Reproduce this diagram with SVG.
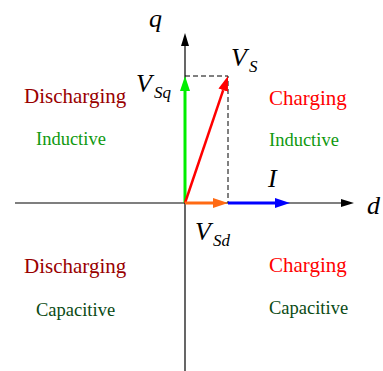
<svg xmlns="http://www.w3.org/2000/svg" width="383" height="371" viewBox="0 0 383 371">
<style>
.axis{stroke:#000;stroke-width:1.2;fill:none}
.dash{stroke:#000;stroke-width:1;stroke-dasharray:5,3;fill:none}
.lbl{font-family:"Liberation Serif",serif;font-size:21px}
.sub{font-family:"Liberation Serif",serif;font-size:18.5px}
.var{font-family:"Liberation Serif",serif;font-style:italic;font-size:26px;fill:#000}
.vsub{font-family:"Liberation Serif",serif;font-style:italic;font-size:17px;fill:#000}
.dis{fill:#990000}.chg{fill:#ff0000}.ind{fill:#0f990f}.cap{fill:#0a4a14}
</style>
<defs>
<marker id="ak" markerUnits="userSpaceOnUse" markerWidth="14" markerHeight="10" refX="0" refY="5" orient="auto" viewBox="0 0 14 10"><path d="M0,1 L13,5 L0,9 Z" fill="#000"/></marker>
<marker id="ag" markerUnits="userSpaceOnUse" markerWidth="15" markerHeight="12" refX="0" refY="6" orient="auto" viewBox="0 0 15 12"><path d="M0,1 L15,6 L0,11 Z" fill="#00ee00"/></marker>
<marker id="ar" markerUnits="userSpaceOnUse" markerWidth="15" markerHeight="12" refX="0" refY="6" orient="auto" viewBox="0 0 15 12"><path d="M0,1 L15,6 L0,11 Z" fill="#ff0000"/></marker>
<marker id="ao" markerUnits="userSpaceOnUse" markerWidth="15" markerHeight="12" refX="0" refY="6" orient="auto" viewBox="0 0 15 12"><path d="M0,1 L15,6 L0,11 Z" fill="#ff6a13"/></marker>
<marker id="ab" markerUnits="userSpaceOnUse" markerWidth="15" markerHeight="12" refX="0" refY="6" orient="auto" viewBox="0 0 15 12"><path d="M0,1 L15,6 L0,11 Z" fill="#0000ff"/></marker>
</defs>
<rect width="383" height="371" fill="#fff"/>
<g id="connectors">
<line class="axis" x1="15" y1="203" x2="341" y2="203" marker-end="url(#ak)"/>
<line class="axis" x1="185" y1="371" x2="185" y2="46" marker-end="url(#ak)"/>
<polyline class="dash" points="185,76 228,76 228,203"/>
<line x1="185" y1="203" x2="185" y2="91" stroke="#00ee00" stroke-width="3" marker-end="url(#ag)"/>
<line x1="185" y1="203" x2="223.2" y2="90.2" stroke="#ff0000" stroke-width="2.5" marker-end="url(#ar)"/>
<line x1="228" y1="203" x2="275" y2="203" stroke="#0000ff" stroke-width="3" marker-end="url(#ab)"/>
<line x1="185" y1="203" x2="213" y2="203" stroke="#ff6a13" stroke-width="3" marker-end="url(#ao)"/>
</g>
<g id="axis-labels">
<text class="var" x="149" y="27">q</text>
<text class="var" x="367" y="214">d</text>
</g>
<g id="vector-labels">
<text x="231" y="66"><tspan class="var">V</tspan><tspan class="vsub" dx="2" dy="6">S</tspan></text>
<text x="136" y="92"><tspan class="var">V</tspan><tspan class="vsub" dx="2" dy="6">Sq</tspan></text>
<text x="195" y="240"><tspan class="var">V</tspan><tspan class="vsub" dx="2" dy="6">Sd</tspan></text>
<text class="var" x="268" y="187">I</text>
</g>
<g id="q2"><text class="lbl dis" x="24" y="103">Discharging</text><text class="sub ind" x="36" y="145">Inductive</text></g>
<g id="q1"><text class="lbl chg" x="269" y="105">Charging</text><text class="sub ind" x="269" y="146">Inductive</text></g>
<g id="q3"><text class="lbl dis" x="24" y="273">Discharging</text><text class="sub cap" x="36" y="316">Capacitive</text></g>
<g id="q4"><text class="lbl chg" x="269" y="272">Charging</text><text class="sub cap" x="269" y="314">Capacitive</text></g>
</svg>
